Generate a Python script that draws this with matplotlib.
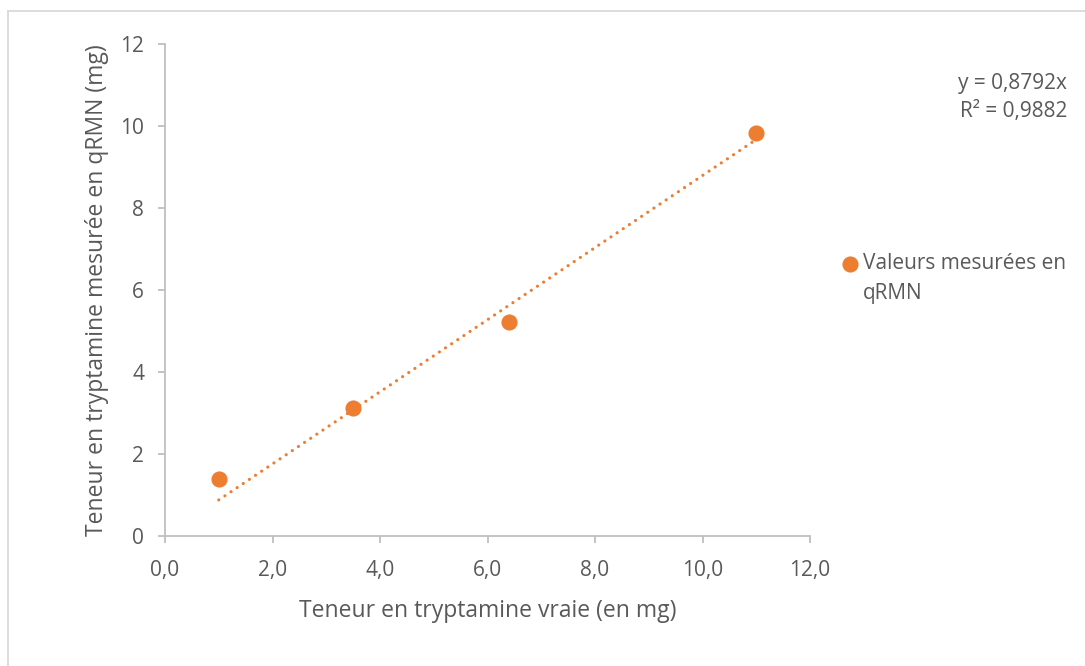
import matplotlib
matplotlib.use("Agg")
import matplotlib.pyplot as plt
from matplotlib.lines import Line2D
import numpy as np

plt.rcParams['font.family'] = ['Open Sans', 'DejaVu Sans']

# Measured values
true_mg = [1.0, 3.5, 6.4, 11.0]
measured_mg = [1.40, 3.12, 5.21, 9.84]
slope = 0.8792
r_squared = 0.9882

x_ticks = [0, 2, 4, 6, 8, 10, 12]
x_tick_labels = ["0,0", "2,0", "4,0", "6,0", "8,0", "10,0", "12,0"]
y_ticks = [0, 2, 4, 6, 8, 10, 12]

orange = "#ED7D31"
text_col = "#595959"
axis_col = "#BFBFBF"

fig = plt.figure(figsize=(10.85, 6.66), dpi=100)
ax = fig.add_axes([165 / 1085, 1 - 536 / 666, 645 / 1085, 492 / 666])

# trendline through origin, over the span of the data
xs = np.array([min(true_mg), max(true_mg)])
ax.plot(xs, slope * xs, color=orange, lw=2.3, linestyle=(0, (0.01, 2.3)),
        dash_capstyle='round', solid_capstyle='round', zorder=2)
ax.scatter(true_mg, measured_mg, s=135, color=orange, zorder=3,
           linewidths=0, label="Valeurs mesurées en\nqRMN")

ax.set_xlim(0, 12)
ax.set_ylim(0, 12)
ax.set_xticks(x_ticks)
ax.set_xticklabels(x_tick_labels)
ax.set_yticks(y_ticks)

for s in ['top', 'right']:
    ax.spines[s].set_visible(False)
for s in ['left', 'bottom']:
    ax.spines[s].set_color(axis_col)
    ax.spines[s].set_linewidth(1.3)
ax.tick_params(axis='both', colors=axis_col, labelcolor=text_col,
               labelsize=15, length=5, width=1.3)
ax.tick_params(axis='x', pad=12)
ax.tick_params(axis='y', pad=10)

ax.set_xlabel("Teneur en tryptamine vraie (en mg)", fontsize=16.5,
              color=text_col, labelpad=13)
ax.set_ylabel("Teneur en tryptamine mesurée en qRMN (mg)", fontsize=16.5,
              color=text_col, labelpad=8)

leg = fig.legend(loc='upper left', bbox_to_anchor=(841 / 1085, 1 - 253 / 666),
                 frameon=False, fontsize=15, handletextpad=0.15,
                 handlelength=0.9, borderpad=0, borderaxespad=0)
for t in leg.get_texts():
    t.set_color(text_col)
    t.set_linespacing(1.55)
# align the marker with the first text line
h = leg.legend_handles[0]
off = h.get_offsets()
off[:, 1] += 12.5
h.set_offsets(off)

fig.text(1067 / 1085, 1 - 84 / 666,
         f"y = {slope:.4f}x".replace('.', ','),
         ha='right', va='center', fontsize=15, color=text_col)
fig.text(1067 / 1085, 1 - 112 / 666,
         f"R² = {r_squared:.4f}".replace('.', ','),
         ha='right', va='center', fontsize=15, color=text_col)

# chart area border
border = "#D9D9D9"
fig.add_artist(Line2D([8 / 1085, 8 / 1085], [0, 1 - 11 / 666],
                      transform=fig.transFigure, color=border, lw=1.3))
fig.add_artist(Line2D([8 / 1085, 1], [1 - 11 / 666, 1 - 11 / 666],
                      transform=fig.transFigure, color=border, lw=1.3))

fig.savefig("out.png", dpi=100)
